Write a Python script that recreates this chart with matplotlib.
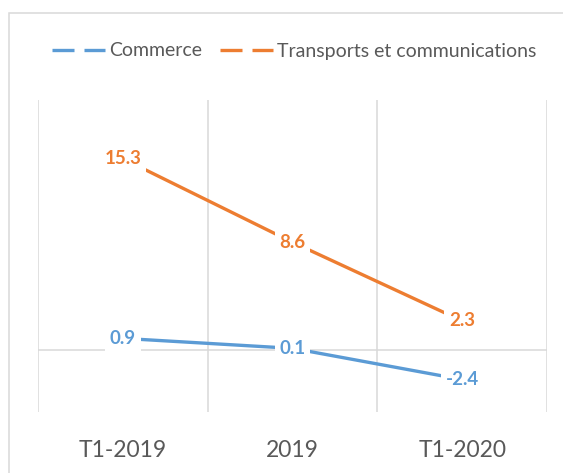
"""Commerce vs transports: line chart with centred data labels."""

import matplotlib

matplotlib.use("Agg")
import matplotlib.pyplot as plt
from matplotlib.lines import Line2D
from matplotlib.patches import Rectangle

plt.rcParams["font.family"] = ["Lato", "DejaVu Sans"]

categories = ["T1-2019", "2019", "T1-2020"]
commerce = [0.9, 0.1, -2.4]
transports = [15.3, 8.6, 2.3]
series_names = ["Commerce", "Transports et communications"]

BLUE = "#5B9BD5"
ORANGE = "#ED7D31"
GRID = "#D9D9D9"
TEXT = "#595959"

W, H = 563, 473
fig = plt.figure(figsize=(W / 100, H / 100), dpi=100)
ax = fig.add_axes([38 / W, 1 - 412 / H, (547 - 38) / W, (412 - 100) / H])

x = list(range(len(categories)))
for vals, color in [(commerce, BLUE), (transports, ORANGE)]:
    ax.plot(x, vals, color=color, lw=2.4, solid_capstyle="butt", zorder=3)
    for xi, v in zip(x, vals):
        ax.text(xi, v, f"{v:.1f}", color=color, fontsize=13.5, fontweight="bold",
                ha="center", va="center", zorder=4,
                bbox=dict(boxstyle="square,pad=0.25", fc="white", ec="none"))

ax.set_xlim(-0.5, 2.5)
ax.set_ylim(-5, 20)
ax.set_xticks(x)
ax.set_xticklabels(categories, fontsize=16.5, color=TEXT)
ax.set_xticks([-0.5, 0.5, 1.5, 2.5], minor=True)
ax.set_yticks([])
ax.tick_params(axis="x", which="both", length=0, pad=20)
ax.grid(axis="x", which="minor", color=GRID, lw=1.1)
ax.axhline(0, color=GRID, lw=1.1, zorder=1)
for sp in ax.spines.values():
    sp.set_visible(False)

handles = []
for color in [BLUE, ORANGE]:
    h = Line2D([], [], color=color, lw=2.4)
    h.set_dashes([6.6, 3.0])
    handles.append(h)
fig.legend(handles, series_names, loc="center", bbox_to_anchor=(294 / W, 1 - 51 / H),
           ncol=2, frameon=False, fontsize=14, labelcolor=TEXT,
           handlelength=2.75, handletextpad=0.2, columnspacing=0.9)

fig.add_artist(Rectangle((9 / W, -0.1), 1.2, 1.1 - 13 / H, transform=fig.transFigure,
                         fill=False, ec=GRID, lw=1.1))

fig.savefig("out.png", dpi=100)
